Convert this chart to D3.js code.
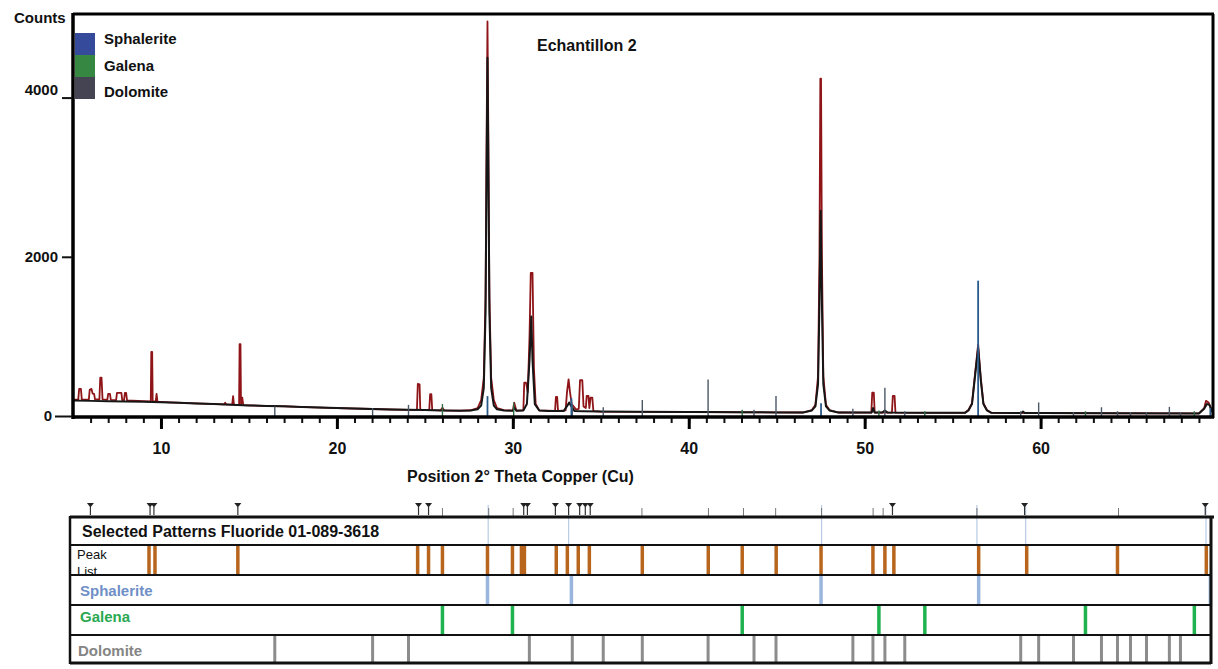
<!DOCTYPE html>
<html><head><meta charset="utf-8">
<script src="https://cdn.jsdelivr.net/npm/d3@7"></script>
<style>
html,body{margin:0;padding:0;background:#fff;}
svg{display:block;font-family:"Liberation Sans",Arial,sans-serif;}
</style></head>
<body>
<svg id="c" width="1218" height="669"></svg>
<script>
// ---------- DATA ----------
const title = "Echantillon 2";
const xTitle = "Position 2° Theta Copper (Cu)";
const yTitle = "Counts";
const xMajorTicks = [10, 20, 30, 40, 50, 60];
const yTicks = [0, 2000, 4000];
const legendNames = ["Sphalerite", "Galena", "Dolomite"];
const panelTitle = "Selected Patterns Fluoride 01-089-3618";

// observed scan (2θ, counts)
const observed = [
 [5.0,205],[5.3,208],[5.35,340],[5.45,340],[5.5,210],[5.9,205],[5.95,330],[6.05,340],[6.12,280],[6.2,277],[6.25,210],
 [6.5,208],[6.55,482],[6.62,482],[6.68,208],[6.95,203],[7.0,277],[7.1,277],[7.15,203],[7.45,200],[7.5,290],[7.75,290],
 [7.8,200],[7.9,198],[7.95,290],[8.02,290],[8.07,195],[9.0,188],[9.42,184],[9.45,805],[9.5,805],[9.53,184],[9.7,182],
 [9.75,277],[9.8,180],[10.5,172],[12,158],[13.6,145],[13.65,167],[13.72,145],[14.05,142],[14.1,250],[14.15,141],
 [14.44,140],[14.47,902],[14.52,902],[14.55,140],[14.62,230],[14.68,136],[15,133],[17,122],[20,100],[22,88],[24,78],
 [24.55,77],[24.6,402],[24.7,398],[24.74,76],[25.25,74],[25.3,273],[25.37,273],[25.42,73],[25.9,71],[26.0,105],[26.1,70],
 [27,67],[27.6,72],[28.0,100],[28.2,200],[28.35,480],[28.45,1500],[28.52,3800],[28.56,4956],[28.6,3800],[28.67,1500],
 [28.77,480],[28.92,200],[29.1,100],[29.5,75],[30.0,68],[30.08,167],[30.2,68],[30.6,75],[30.65,419],[30.75,419],[30.85,300],
 [30.95,1000],[31.02,1799],[31.12,1799],[31.2,600],[31.3,150],[31.5,70],[32.4,64],[32.45,239],[32.52,239],[32.57,64],
 [33.0,70],[33.08,300],[33.17,461],[33.25,300],[33.35,150],[33.6,80],[33.75,90],[33.82,449],[33.95,449],[34.02,120],
 [34.15,100],[34.2,252],[34.3,252],[34.35,100],[34.42,230],[34.52,230],[34.58,60],[35,56],[40,50],[45,45],[46.5,44],
 [47.0,75],[47.2,140],[47.35,500],[47.43,2000],[47.48,4239],[47.52,4239],[47.57,2000],[47.65,500],[47.8,140],[48,75],
 [48.5,44],[50,43],[50.38,43],[50.43,293],[50.52,293],[50.57,43],[51.55,42],[51.6,252],[51.7,252],[51.75,42],[55,40],
 [55.7,40],[55.9,75],[56.1,160],[56.25,480],[56.45,900],[56.6,480],[56.75,160],[56.95,75],[57.2,40],[60,37],[65,34],
 [69,32],[69.3,100],[69.4,190],[69.55,170],[69.7,80],[69.8,50]
];

// fitted profile (2θ, counts)
const profile = [
 [5.0,195],[6,190],[7,186],[8,182],[9,178],[10,172],[11,166],[12,158],[13,150],[14,140],[15,133],[16,127],[17,122],
 [18,114],[19,107],[20,100],[21,94],[22,88],[23,83],[24,78],[25,74],[26,70],[27,67],[27.6,68],[28.0,85],[28.2,130],
 [28.35,350],[28.45,1300],[28.52,3400],[28.56,4500],[28.6,3400],[28.67,1300],[28.77,350],[28.92,130],[29.1,85],
 [29.5,70],[30.0,66],[30.1,100],[30.2,66],[30.6,70],[30.8,150],[30.95,700],[31.05,1250],[31.12,700],[31.25,150],
 [31.5,70],[32,62],[32.9,64],[33.1,130],[33.2,170],[33.3,130],[33.5,64],[34,60],[35,56],[37,54],[40,50],[41,49],
 [43,47],[45,45],[46.5,44],[47.0,70],[47.2,120],[47.35,400],[47.43,1400],[47.5,2579],[47.57,1400],[47.65,400],
 [47.8,120],[48,70],[48.5,44],[50,43],[50.4,43],[50.48,100],[50.56,43],[51.0,43],[51.15,70],[51.3,43],[53,41],
 [55,40],[55.7,40],[55.9,70],[56.1,150],[56.25,450],[56.45,850],[56.6,450],[56.75,150],[56.95,70],[57.2,40],
 [58.9,38],[59.0,55],[59.1,38],[60,37],[65,34],[69,32],[69.3,90],[69.45,150],[69.6,140],[69.75,60],[69.8,40]
];

// reference sticks inside the scan plot (2θ, counts)
const sphaleriteSticks = [[28.56,250],[33.33,225],[47.52,160],[56.45,1700],[69.65,100]];
const galenaSticks = [[26.0,150],[30.05,167],[43.04,80],[50.81,70],[53.42,60],[62.55,60],[68.74,60]];
const dolomiteSticks = [[16.47,120],[22.03,100],[24.07,140],[33.38,150],[35.14,110],[37.36,200],[41.1,460],
 [43.71,80],[44.96,250],[49.33,90],[51.15,356],[52.28,60],[58.87,60],[59.89,170],[61.87,50],[63.46,110],
 [64.37,60],[65.11,50],[66.02,50],[67.32,115],[67.95,50]];

// pattern list positions (2θ)
const peakList = [9.32,9.66,14.37,24.59,25.21,26.0,28.56,29.98,30.49,30.66,32.47,33.1,33.72,34.35,37.36,41.11,
 43.04,44.97,47.52,50.47,51.15,51.66,56.48,59.21,64.37,69.42];
const sphaleriteList = [28.56,33.33,47.52,56.48,69.65];
const galenaList = [26.0,29.98,43.04,50.81,53.42,62.55,68.74];
const dolomiteList = [16.47,22.03,24.07,30.94,33.38,35.14,37.36,41.1,43.71,44.96,49.33,50.47,51.15,52.28,
 58.87,59.89,61.87,63.46,64.37,65.11,66.02,67.32,67.95];
const peakMarkers = [5.99,9.38,9.6,14.37,24.64,25.21,30.62,30.83,32.42,33.17,33.8,34.12,34.4,51.58,59.09,69.36];
const peakTicks = [26.0,28.63,30.02,37.34,41.12,43.11,44.94,47.55,50.48,51.05,56.38,64.43];
const headerLines = [28.6,33.17,47.55,56.38,59.15,69.4];

// ---------- DRAW ----------
const svg = d3.select("#c");
const L = 73, R = 1213, T = 14, B = 416;
const x = d3.scaleLinear().domain([5, 69.8]).range([L, R]);
const y = d3.scaleLinear().domain([0, 5050]).range([B, T]);

svg.append("rect").attr("width",1218).attr("height",669).attr("fill","#fff");

svg.append("clipPath").attr("id","clip").append("rect")
  .attr("x",L).attr("y",T).attr("width",R-L).attr("height",B-T+1);
const plot = svg.append("g").attr("clip-path","url(#clip)");

const line = d3.line().x(d=>x(d[0])).y(d=>y(d[1]));
plot.append("path").datum(observed).attr("d",line).attr("fill","none")
  .attr("stroke","#8e1418").attr("stroke-width",1.8).attr("stroke-linejoin","round");
plot.append("path").datum(profile).attr("d",line).attr("fill","none")
  .attr("stroke","#161616").attr("stroke-width",2).attr("stroke-linejoin","round");

function sticks(data, color, w){
  plot.append("g").selectAll("line").data(data).join("line")
    .attr("x1",d=>x(d[0])).attr("x2",d=>x(d[0]))
    .attr("y1",y(0)+1).attr("y2",d=>y(d[1]))
    .attr("stroke",color).attr("stroke-width",w);
}
sticks(dolomiteSticks,"#4b5866",1.4);
sticks(galenaSticks,"#2f6e45",1.4);
sticks(sphaleriteSticks,"#2a5a8a",1.8);

// frame
const frame = svg.append("g").attr("stroke","#000").attr("fill","none");
frame.append("line").attr("x1",L).attr("x2",R+1).attr("y1",T).attr("y2",T).attr("stroke-width",3);
frame.append("line").attr("x1",R).attr("x2",R).attr("y1",T).attr("y2",B+2).attr("stroke-width",3);
frame.append("line").attr("x1",L).attr("x2",L).attr("y1",T-1).attr("y2",B+3).attr("stroke-width",3.5);

// x axis: minor + major
const xMinor = d3.axisBottom(x).tickValues(d3.range(6,70,1)).tickSize(6).tickFormat("");
const gMin = svg.append("g").attr("transform",`translate(0,${B+1})`).call(xMinor);
gMin.select(".domain").remove();
gMin.selectAll(".tick line").attr("stroke","#111").attr("stroke-width",2);
const xMajor = d3.axisBottom(x).tickValues(xMajorTicks).tickSize(12).tickPadding(14).tickFormat(d3.format("d"));
const gMaj = svg.append("g").attr("transform",`translate(0,${B+1})`).call(xMajor);
gMaj.select(".domain").remove();
gMaj.selectAll(".tick line").attr("stroke","#000").attr("stroke-width",3);
gMaj.selectAll(".tick text").attr("font-size",16).attr("font-weight","bold").attr("fill","#111")
  .attr("font-family","'Liberation Sans',Arial,sans-serif");
svg.append("line").attr("x1",L-1).attr("x2",R+1).attr("y1",B+1).attr("y2",B+1)
  .attr("stroke","#000").attr("stroke-width",3.5);

// y axis
const yAx = d3.axisLeft(y).tickValues(yTicks).tickSize(10).tickPadding(6).tickFormat(d3.format("d"));
const gY = svg.append("g").attr("transform",`translate(${L-1},0)`).call(yAx);
gY.select(".domain").remove();
gY.selectAll(".tick line").attr("stroke","#111").attr("stroke-width",2)
  .attr("x2",d=>d===0?-17:-10);
gY.selectAll(".tick text").attr("font-size",15).attr("font-weight","bold").attr("fill","#111")
  .attr("font-family","'Liberation Sans',Arial,sans-serif")
  .attr("x",d=>d===0?-20:-14).attr("dy",d=>d===4000?"-0.2em":"0.3em");

svg.append("text").attr("x",14).attr("y",23).text(yTitle)
  .attr("font-size",15).attr("font-weight","bold").attr("fill","#111");
svg.append("text").attr("x",537).attr("y",51).text(title)
  .attr("font-size",16).attr("font-weight","bold").attr("fill","#111");
svg.append("text").attr("x",407).attr("y",482).text(xTitle)
  .attr("font-size",16).attr("font-weight","bold").attr("fill","#111");

// legend
const legColors = ["#1f3690","#1f7a2e","#30303f"];
const leg = svg.append("g");
legendNames.forEach((n,i)=>{
  leg.append("rect").attr("x",75).attr("y",33+i*22).attr("width",20).attr("height",22).attr("fill",legColors[i]).attr("opacity",0.9);
  leg.append("text").attr("x",104).attr("y",44+i*26.5).text(n)
    .attr("font-size",15).attr("font-weight","bold").attr("fill","#111");
});

// ---------- bottom pattern panel ----------
const PL = 70, PR = 1211;
const rows = [[517,545],[545,575],[575,605],[605,635],[635,663]];
const panel = svg.append("g");

panel.selectAll("line.hl").data(headerLines).join("line").attr("class","hl")
  .attr("x1",d=>x(d)).attr("x2",d=>x(d)).attr("y1",505).attr("y2",545)
  .attr("stroke","#b8cce4").attr("stroke-width",1.2);
panel.selectAll("line.pt").data(peakTicks).join("line").attr("class","pt")
  .attr("x1",d=>x(d)).attr("x2",d=>x(d)).attr("y1",508).attr("y2",517)
  .attr("stroke","#777").attr("stroke-width",1);
const mk = panel.selectAll("g.mk").data(peakMarkers).join("g").attr("class","mk")
  .attr("transform",d=>`translate(${x(d)},503)`);
mk.append("path").attr("d","M-3.5,0L3.5,0L0,4.5Z").attr("fill","#222");
mk.append("line").attr("x1",0).attr("x2",0).attr("y1",4).attr("y2",12).attr("stroke","#333").attr("stroke-width",1.2);

function rowSticks(list, row, color, w){
  panel.append("g").selectAll("line").data(list).join("line")
    .attr("x1",d=>x(d)).attr("x2",d=>x(d))
    .attr("y1",rows[row][0]).attr("y2",rows[row][1])
    .attr("stroke",color).attr("stroke-width",w);
}
rowSticks(peakList,1,"#b8661e",3.5);
rowSticks(sphaleriteList,2,"#9ab6de",3.5);
rowSticks(galenaList,3,"#1fb350",3.5);
rowSticks(dolomiteList,4,"#8c8c8c",3);

panel.append("text").attr("x",82).attr("y",537).text(panelTitle)
  .attr("font-size",16).attr("font-weight","bold").attr("fill","#111");
panel.append("text").attr("x",77).attr("y",559).text("Peak").attr("font-size",13).attr("fill","#111");
panel.append("text").attr("x",77).attr("y",576).text("List").attr("font-size",13).attr("fill","#111");
panel.append("text").attr("x",80).attr("y",596).text("Sphalerite")
  .attr("font-size",15).attr("font-weight","bold").attr("fill","#6f8fc6");
panel.append("text").attr("x",80).attr("y",622).text("Galena")
  .attr("font-size",15).attr("font-weight","bold").attr("fill","#2aa852");
panel.append("text").attr("x",78).attr("y",656).text("Dolomite")
  .attr("font-size",15).attr("font-weight","bold").attr("fill","#858585");

const pg = panel.append("g").attr("stroke","#111").attr("fill","none");
pg.append("line").attr("x1",PL).attr("x2",PR+3).attr("y1",517).attr("y2",517).attr("stroke-width",3);
[545,575,605,635].forEach(v=>pg.append("line").attr("x1",PL).attr("x2",PR).attr("y1",v).attr("y2",v).attr("stroke-width",2.2));
pg.append("line").attr("x1",PL).attr("x2",PR).attr("y1",663).attr("y2",663).attr("stroke-width",3);
pg.append("line").attr("x1",PL).attr("x2",PL).attr("y1",516).attr("y2",664).attr("stroke-width",2.5);
pg.append("line").attr("x1",PR).attr("x2",PR).attr("y1",516).attr("y2",664).attr("stroke-width",3);
</script>
</body></html>
